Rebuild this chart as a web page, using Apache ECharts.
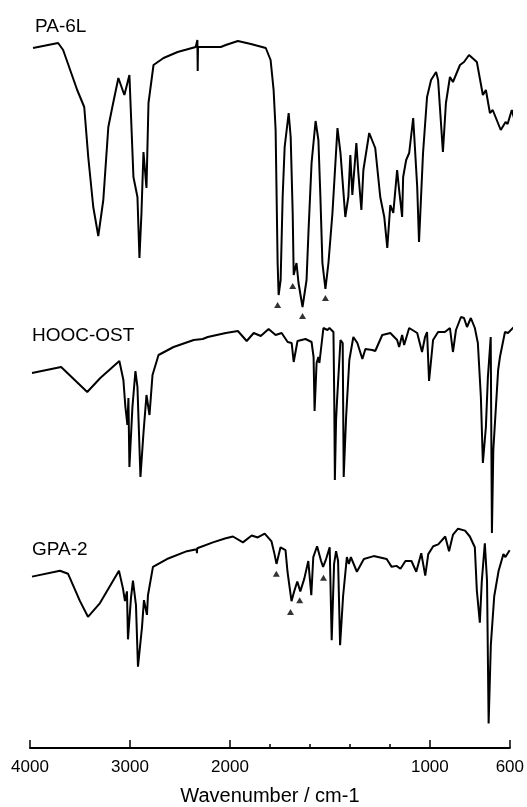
<!DOCTYPE html>
<html>
<head>
<meta charset="utf-8">
<script src="https://cdn.jsdelivr.net/npm/echarts@6/dist/echarts.min.js"></script>
<style>
html, body { margin: 0; padding: 0; background: #fff; }
#chart { width: 527px; height: 807px; }
</style>
</head>
<body>
<div id="chart"></div>
<script>
// wavenumber (cm-1), transmittance (arbitrary units per trace)
const pa6l = [
	[3970, 131], [3720, 133.5], [3670, 130], [3530, 110], [3460, 101.5], [3420, 76.5],
	[3370, 51.5], [3320, 37], [3270, 55], [3220, 91.5], [3180, 101.5], [3120, 116],
	[3060, 107.5], [3010, 117.5], [2970, 66.5], [2930, 56.5], [2910, 26], [2890, 48.5],
	[2870, 79], [2840, 61], [2820, 103.5], [2770, 122.5], [2670, 126], [2530, 129],
	[2350, 131.5], [2335, 131.5], [2333, 135], [2330, 119.5], [2327, 131.5], [2170, 131.5],
	[2100, 131.5], [2050, 132.5], [1965, 134.5], [1900, 133], [1826, 131], [1802, 125],
	[1787, 110], [1777, 90], [1772, 56.5], [1767, 23.5], [1762, 7.5], [1752, 15],
	[1742, 56.5], [1732, 81.5], [1712, 98.5], [1702, 86.5], [1692, 48.5], [1687, 17.5],
	[1673, 23.5], [1663, 13.5], [1643, 1.5], [1623, 15], [1613, 40], [1598, 73.5],
	[1578, 94.5], [1564, 85], [1554, 56.5], [1544, 23.5], [1529, 10.5], [1514, 23.5],
	[1494, 48.5], [1469, 91], [1454, 78.5], [1430, 46.5], [1415, 56.5], [1405, 77.5],
	[1395, 57.5], [1375, 83.5], [1365, 68.5], [1350, 50], [1340, 70], [1311, 88.5],
	[1281, 81], [1256, 56.5], [1236, 46.5], [1221, 31], [1206, 52.5], [1191, 48.5],
	[1172, 70], [1162, 60], [1147, 46.5], [1142, 66.5], [1127, 75], [1112, 78.5],
	[1092, 96], [1072, 61.5], [1063, 34], [1043, 78.5], [1023, 106.5], [1003, 115],
	[978, 119], [968, 115], [944, 79], [929, 103.5], [909, 116.5], [894, 114],
	[859, 122.5], [839, 124], [814, 127.5], [775, 124], [745, 107.5], [730, 110],
	[710, 98.5], [696, 100], [656, 90], [632, 94], [622, 93], [601, 100], [581, 92.5]
]
const hoocOst = [
	[3980, 83.5], [3690, 86.5], [3430, 74], [3300, 81], [3110, 89.5], [3070, 80],
	[3050, 66.5], [3030, 57.5], [3020, 71], [3010, 36.5], [2980, 66.5], [2950, 84.5],
	[2930, 76.5], [2900, 31.5], [2870, 53.5], [2840, 72.5], [2810, 62.5], [2780, 82.5],
	[2720, 92.5], [2570, 96.5], [2370, 100], [2280, 100.5], [2230, 101.5], [2050, 103.5],
	[1965, 104.5], [1921, 99.5], [1886, 103.5], [1851, 102], [1812, 105.5], [1777, 102.5],
	[1747, 103.5], [1717, 99], [1697, 98.5], [1687, 89], [1668, 99.5], [1628, 100.5],
	[1598, 99], [1588, 91.5], [1583, 64.5], [1573, 88.5], [1564, 91.5], [1559, 88.5],
	[1539, 106], [1519, 105], [1509, 106], [1489, 104], [1485, 70], [1482, 30],
	[1476, 60], [1471, 70], [1454, 100], [1443, 98.5], [1438, 31.5], [1426, 61.5],
	[1410, 90], [1390, 101.5], [1370, 98.5], [1345, 90.5], [1330, 95.5], [1296, 95],
	[1281, 94.5], [1246, 102.5], [1206, 103.5], [1172, 100], [1162, 96.5], [1147, 102.5],
	[1137, 97.5], [1112, 106], [1072, 103.5], [1048, 94], [1033, 101.5], [1023, 104],
	[1013, 79.5], [993, 100], [968, 104], [934, 104], [909, 106], [894, 94],
	[879, 105], [854, 111.5], [839, 111], [824, 106.5], [805, 111], [785, 106],
	[770, 98.5], [755, 71.5], [745, 38.5], [730, 56.5], [720, 81.5], [706, 101.5],
	[700, 3.5], [693, 45], [669, 85], [660, 91.5], [635, 104], [620, 103.5], [581, 107.5]
]
const gpa2 = [
	[3980, 87.5], [3700, 90.5], [3620, 89], [3500, 75], [3420, 67], [3300, 74],
	[3110, 90.5], [3070, 81.5], [3050, 75], [3030, 80], [3020, 55.5], [2990, 76.5],
	[2970, 85.5], [2940, 73], [2920, 41.5], [2880, 61.5], [2860, 75.5], [2830, 68],
	[2820, 78], [2770, 92.5], [2630, 96.5], [2430, 100.5], [2333, 101.5], [2330, 99.5],
	[2327, 102], [2170, 105], [2050, 107], [1985, 108], [1935, 105], [1891, 108.5],
	[1861, 107.5], [1826, 109.5], [1792, 105.5], [1777, 99], [1767, 94], [1747, 102.5],
	[1722, 101], [1712, 90], [1692, 75], [1677, 80.5], [1663, 85], [1648, 80],
	[1628, 86.5], [1608, 95.5], [1593, 78], [1583, 97.5], [1564, 103], [1544, 95.5],
	[1534, 92.5], [1519, 96.5], [1501, 102.5], [1491, 55], [1479, 94], [1469, 100.5],
	[1459, 95.5], [1449, 52.5], [1434, 77.5], [1415, 97.5], [1405, 94], [1395, 97.5],
	[1365, 90], [1330, 96.5], [1281, 98], [1271, 98], [1216, 96.5], [1191, 92.5],
	[1167, 93], [1147, 91.5], [1122, 95.5], [1092, 95.5], [1068, 90], [1043, 99.5],
	[1023, 88], [1008, 99], [983, 103], [958, 104], [923, 108], [904, 100.5],
	[884, 109], [859, 112], [824, 111], [800, 108], [775, 102.5], [765, 80.5],
	[750, 64], [740, 85.5], [725, 104.5], [714, 85.5], [706, 12.5], [695, 52.5],
	[678, 77.5], [656, 90.5], [632, 99], [622, 97.5], [601, 101]
]
// band markers (filled triangles)
const pa6lMarks = [[1767, 2.5], [1692, 12], [1643, -3], [1529, 6]]
const gpa2Marks = [[1768, 89], [1697, 69.5], [1651, 75.5], [1532, 87]]

const traceNames = ['PA-6L', 'HOOC-OST', 'GPA-2']
const majorTicks = [4000, 3000, 2000, 1000, 600]
const minorTicks = [1800, 1600, 1400, 1200]

// the chart scale doubles below 2000 cm-1
const toAxis = (w) => (w > 2000 ? 2000 + (w - 2000) / 2 : w)
const fromAxis = (p) => (p > 2000 ? 2000 + (p - 2000) * 2 : p)
const conv = (arr) => arr.map(([w, t]) => [toAxis(w), t])

const font = 'Liberation Sans, Arial, sans-serif'

const chart = echarts.init(document.getElementById('chart'))

const grids = [
	{ left: 30, right: 15, top: 30, height: 300 },
	{ left: 30, right: 15, top: 300, height: 240 },
	{ left: 30, right: 15, top: 513, height: 240 }
]

const hiddenX = (i) => ({
	type: 'value', gridIndex: i, min: 600, max: 3000, inverse: true, show: false
})

const option = {
	animation: false,
	backgroundColor: '#fff',
	grid: grids,
	xAxis: [
		hiddenX(0),
		hiddenX(1),
		{
			type: 'value',
			gridIndex: 2,
			position: 'bottom',
			min: 600,
			max: 3000,
			inverse: true,
			name: 'Wavenumber / cm-1',
			nameLocation: 'middle',
			nameGap: 38,
			nameTextStyle: { color: '#000', fontSize: 20, fontFamily: font },
			axisLine: { lineStyle: { color: '#000', width: 2 } },
			axisTick: {
				inside: true,
				length: 8,
				lineStyle: { color: '#000', width: 1.5 },
				customValues: majorTicks.map(toAxis)
			},
			axisLabel: {
				color: '#000',
				fontSize: 17,
				fontFamily: font,
				margin: 11,
				customValues: majorTicks.map(toAxis),
				formatter: (v) => String(Math.round(fromAxis(v)))
			},
			splitLine: { show: false }
		},
		{
			type: 'value',
			gridIndex: 2,
			position: 'bottom',
			min: 600,
			max: 3000,
			inverse: true,
			axisLine: { show: false },
			axisTick: {
				inside: true,
				length: 4,
				lineStyle: { color: '#000', width: 1.5 },
				customValues: minorTicks.map(toAxis)
			},
			axisLabel: { show: false },
			splitLine: { show: false }
		}
	],
	yAxis: [
		{ type: 'value', gridIndex: 0, min: -10, max: 140, show: false },
		{ type: 'value', gridIndex: 1, min: 0, max: 120, show: false },
		{ type: 'value', gridIndex: 2, min: 0, max: 120, show: false }
	],
	graphic: [
		{ type: 'text', left: 35, top: 17, style: { text: traceNames[0], fontSize: 19, fontFamily: font, fill: '#000' } },
		{ type: 'text', left: 32, top: 326, style: { text: traceNames[1], fontSize: 19, fontFamily: font, fill: '#000' } },
		{ type: 'text', left: 32, top: 540, style: { text: traceNames[2], fontSize: 19, fontFamily: font, fill: '#000' } }
	],
	series: [
		{ name: traceNames[0], data: conv(pa6l), xAxisIndex: 0, yAxisIndex: 0 },
		{ name: traceNames[1], data: conv(hoocOst), xAxisIndex: 1, yAxisIndex: 1 },
		{ name: traceNames[2], data: conv(gpa2), xAxisIndex: 2, yAxisIndex: 2 }
	].map((s) => ({
		...s,
		type: 'line',
		showSymbol: false,
		clip: false,
		lineStyle: { color: '#000', width: 2 },
		emphasis: { disabled: true }
	})).concat([
		{ data: conv(pa6lMarks), xAxisIndex: 0, yAxisIndex: 0 },
		{ data: conv(gpa2Marks), xAxisIndex: 2, yAxisIndex: 2 }
	].map((s) => ({
		...s,
		type: 'scatter',
		symbol: 'triangle',
		symbolSize: [7, 6],
		clip: false,
		itemStyle: { color: '#000' }
	})))
}

chart.setOption(option)
</script>
</body>
</html>
